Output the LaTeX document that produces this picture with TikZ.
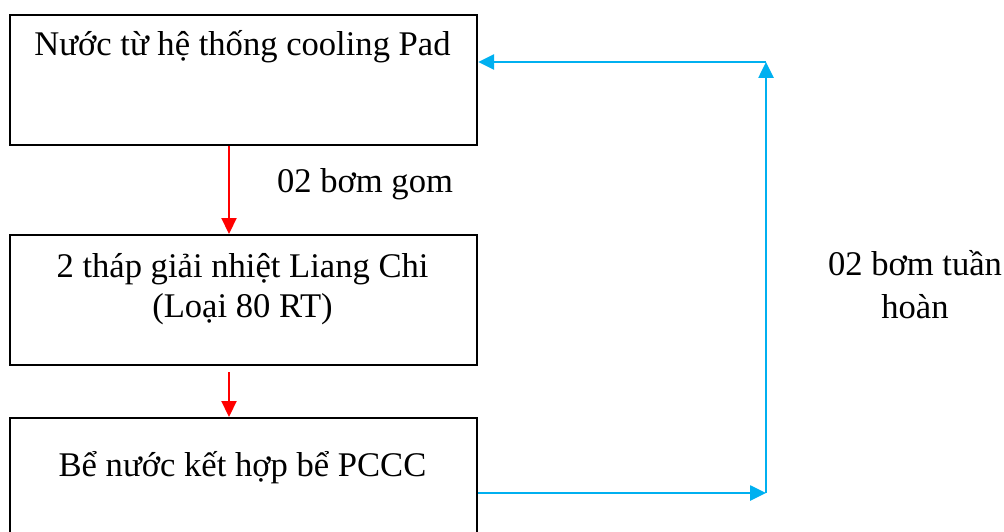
\documentclass[tikz,border=0pt]{standalone}
\usepackage{fontspec}
\setmainfont{Liberation Serif}
\usetikzlibrary{arrows.meta}
\definecolor{flowred}{RGB}{255,0,0}
\definecolor{flowblue}{RGB}{0,176,240}
\tikzset{
  x=1pt, y=-1pt,
  box/.style={draw=black, line width=2.2pt, minimum width=467pt, inner sep=0pt, anchor=north west},
  lbl/.style={font=\fontsize{34.6}{42}\selectfont, anchor=base, inner sep=0pt},
  redarrow/.style={draw=flowred, line width=2.2pt, -{Triangle[length=16pt,width=15pt]}},
  bluearrow/.style={draw=flowblue, line width=2.6pt, -{Triangle[length=16pt,width=15pt]}}
}
\begin{document}
\begin{tikzpicture}
\useasboundingbox (0,0) rectangle (1004,532);
\clip (0,0) rectangle (1004,532);
\node[box, minimum height=130pt] (b1) at (9,14) {};
\node[box, minimum height=130pt] (b2) at (9,234) {};
\node[box, minimum height=152pt] (b3) at (9,417) {};
\node[lbl] (t1) at (242.5,56) {Nước từ hệ thống cooling Pad};
\node[lbl] (t2a) at (242.5,277) {2 tháp giải nhiệt Liang Chi};
\node[lbl] (t2b) at (242.5,317) {(Loại 80 RT)};
\node[lbl] (t3) at (242.5,476) {Bể nước kết hợp bể PCCC};
\node[lbl] (l1) at (365,192) {02 bơm gom};
\node[lbl] (l2a) at (915,275) {02 bơm tuần};
\node[lbl] (l2b) at (915,318) {hoàn};
\coordinate (r1) at (229,372);
\coordinate (cb) at (766,493);
\coordinate (ct) at (766,62);
\draw[redarrow] (b1.south -| r1) -- (b2.north -| r1);
\draw[redarrow] (r1) -- (b3.north -| r1);
\draw[bluearrow] (b3.east |- cb) -- (cb);
\draw[bluearrow] (cb) -- (ct);
\draw[bluearrow] (ct) -- (b1.east |- ct);
\end{tikzpicture}
\end{document}
